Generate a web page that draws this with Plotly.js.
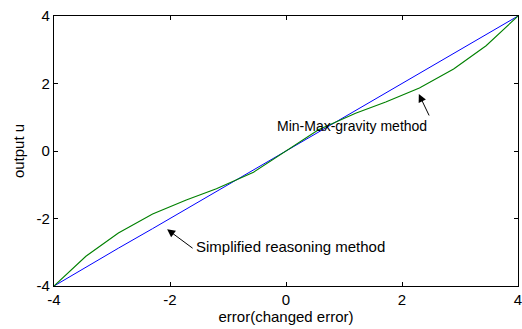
<!DOCTYPE html>
<html>
<head>
<meta charset="utf-8">
<script src="https://cdn.plot.ly/plotly-3.0.1.min.js"></script>
<style>html,body{margin:0;padding:0;background:#fff;}#chart{width:522px;height:329px;}</style>
</head>
<body>
<div id="chart"></div>
<script>
// Simplified reasoning method (blue)
const simplifiedX = [-4, -3.45, -2.89, -2.3, -1.72, -1.2, -0.56, 0, 0.56, 1.2, 1.72, 2.3, 2.89, 3.45, 4];
const simplifiedY = [-4, -3.44, -2.88, -2.3, -1.72, -1.2, -0.56, 0, 0.56, 1.2, 1.72, 2.3, 2.88, 3.44, 4];
// Min-Max-gravity method (green)
const gravityX = [-4, -3.45, -2.89, -2.3, -1.72, -1.2, -0.56, 0, 0.56, 1.2, 1.72, 2.3, 2.89, 3.45, 4];
const gravityY = [-4, -3.12, -2.43, -1.87, -1.45, -1.12, -0.63, 0, 0.63, 1.12, 1.45, 1.87, 2.43, 3.12, 4];
const tickVals = [-4, -2, 0, 2, 4];
const tickText = ['-4', '-2', '0', '2', '4'];
const xLabel = 'error(changed error)';
const yLabel = 'output u';
const labelSimplified = 'Simplified reasoning method';
const labelGravity = 'Min-Max-gravity method';

const fam = '"Liberation Sans", Arial, sans-serif';
const font = {family: fam, size: 15, color: '#000'};
const fontSmall = {family: fam, size: 14, color: '#000'};

const traces = [
  {x: simplifiedX, y: simplifiedY, mode: 'lines', line: {color: '#0000ff', width: 1}, name: labelSimplified, cliponaxis: false},
  {x: gravityX, y: gravityY, mode: 'lines', line: {color: '#008000', width: 1.1}, name: labelGravity, cliponaxis: false}
];

const axisCommon = {
  tickvals: tickVals, ticktext: tickText, range: [-4, 4],
  showgrid: false, zeroline: false, showline: true, linecolor: '#000', linewidth: 1.2,
  mirror: 'ticks', ticks: 'inside', ticklen: 4, tickcolor: '#000', tickwidth: 1,
  tickfont: font, automargin: false, ticklabeloverflow: 'allow'
};

const layout = {
  width: 522, height: 329,
  margin: {l: 54, r: 4, t: 16, b: 43},
  paper_bgcolor: '#fff', plot_bgcolor: '#fff',
  showlegend: false, font: font,
  xaxis: Object.assign({}, axisCommon, {title: {text: xLabel, font: font, standoff: 4}}),
  yaxis: Object.assign({}, axisCommon, {title: {text: yLabel, font: font, standoff: 8}}),
  annotations: [
    {x: -2.05, y: -2.32, xref: 'x', yref: 'y', ax: 27, ay: 20, axref: 'pixel', ayref: 'pixel',
     text: '', showarrow: true, arrowhead: 2, arrowsize: 1.6, arrowwidth: 1, arrowcolor: '#000'},
    {x: 290, y: 257, xref: 'paper', yref: 'paper', text: labelSimplified, showarrow: false, font: font},
    {x: 2.29, y: 1.69, xref: 'x', yref: 'y', ax: 11, ay: 23, axref: 'pixel', ayref: 'pixel',
     text: '', showarrow: true, arrowhead: 2, arrowsize: 1.6, arrowwidth: 1, arrowcolor: '#000'},
    {x: 429, y: 126, xref: 'paper', yref: 'paper', text: labelGravity, showarrow: false, font: fontSmall}
  ]
};
// convert pixel positions of the text labels to paper fractions
const pw = 522 - 54 - 4, ph = 329 - 16 - 43;
layout.annotations.forEach(a => {
  if (a.xref === 'paper') { a.x = (a.x - 54) / pw; a.y = 1 - (a.y - 16) / ph; }
});

Plotly.newPlot('chart', traces, layout, {displayModeBar: false, staticPlot: true});
</script>
</body>
</html>
